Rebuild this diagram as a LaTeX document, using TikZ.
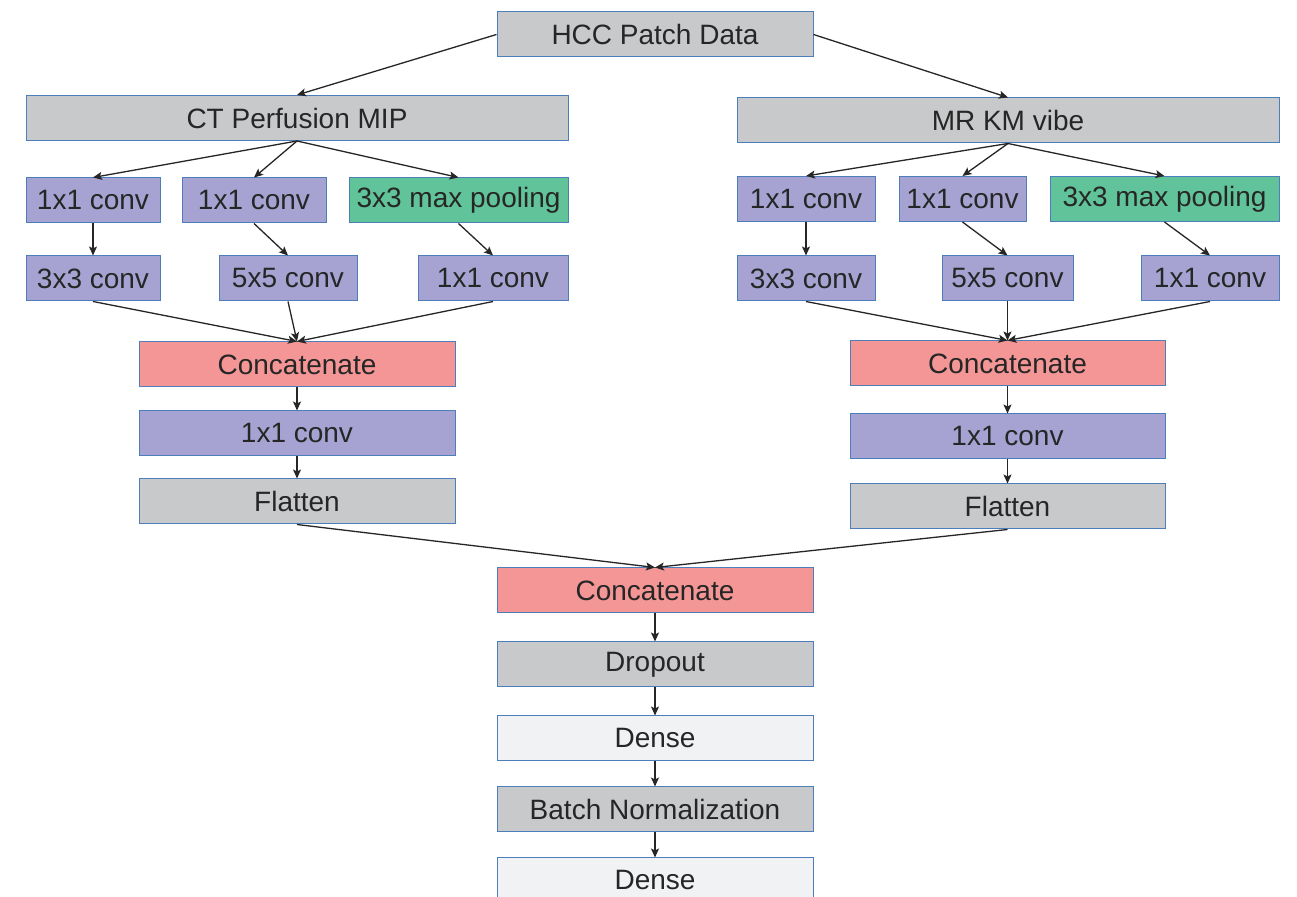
\documentclass[tikz,border=0pt]{standalone}
\usepackage{fontspec}
\setmainfont{Liberation Sans}
\usepackage{tikz}
\usetikzlibrary{shapes,arrows,arrows.meta}
\usetikzlibrary{positioning}
\definecolor{boxgrey}{RGB}{200,201,203}
\definecolor{convpurple}{RGB}{166,163,210}
\definecolor{poolgreen}{RGB}{97,195,153}
\definecolor{catpink}{RGB}{244,150,150}
\definecolor{densewhite}{RGB}{241,242,244}
\definecolor{edgeblue}{RGB}{78,125,188}
\definecolor{inkgrey}{RGB}{38,38,38}
\tikzstyle{arrow} = [line width=0.65pt,->,>={Stealth[length=4.5pt,width=4pt,inset=1pt]},draw=inkgrey]
\tikzstyle{layer} = [
    rectangle, minimum height=22.5pt, inner sep=0pt, text centered,
    draw=edgeblue, line width=0.5pt, text=inkgrey, font=\fontsize{14}{16}\selectfont]
\tikzstyle{data} = [layer, fill=boxgrey]
\tikzstyle{conv} = [layer, fill=convpurple]
\tikzstyle{pool} = [layer, fill=poolgreen]
\tikzstyle{concat} = [layer, fill=catpink]
\tikzstyle{dense} = [layer, fill=densewhite]

\begin{document}
\begin{tikzpicture}[x=0.5pt, y=-0.5pt]
\useasboundingbox[fill=white] (0,0) rectangle (1297,897);

\node (hcc) [data, minimum width=158pt] at (655,34.5) {HCC Patch Data};

% CT branch
\node (ct) [data, minimum width=271pt] at (297,118) {CT Perfusion MIP};
\node (ctA) [conv, minimum width=67pt] at (93,200.5) {1x1 conv};
\node (ctB) [conv, minimum width=72pt] at (254,200.5) {1x1 conv};
\node (ctC) [pool, minimum width=109.5pt] at (458.5,200.5) {3x3 max pooling};
\node (ctA2) [conv, minimum width=67pt] at (93,278.5) {3x3 conv};
\node (ctB2) [conv, minimum width=69pt] at (288,278.5) {5x5 conv};
\node (ctC2) [conv, minimum width=75pt] at (493,278.5) {1x1 conv};
\node (ctcat) [concat, minimum width=158pt] at (297,364.5) {Concatenate};
\node (ctconv) [conv, minimum width=158pt, below=11.5pt of ctcat] {1x1 conv};
\node (ctflat) [data, minimum width=158pt, below=11pt of ctconv] {Flatten};

% MR branch
\node (mr) [data, minimum width=271pt] at (1008,120.5) {MR KM vibe};
\node (mrA) [conv, minimum width=69pt] at (806,199) {1x1 conv};
\node (mrB) [conv, minimum width=63.5pt] at (962.5,199) {1x1 conv};
\node (mrC) [pool, minimum width=114.5pt] at (1164.5,199) {3x3 max pooling};
\node (mrA2) [conv, minimum width=69pt] at (806,278.5) {3x3 conv};
\node (mrB2) [conv, minimum width=65.5pt] at (1007.5,278.5) {5x5 conv};
\node (mrC2) [conv, minimum width=69pt] at (1210,278.5) {1x1 conv};
\node (mrcat) [concat, minimum width=157.5pt] at (1007.5,363.5) {Concatenate};
\node (mrconv) [conv, minimum width=157.5pt, below=13.5pt of mrcat] {1x1 conv};
\node (mrflat) [data, minimum width=157.5pt, below=12pt of mrconv] {Flatten};

% head
\node (cat) [concat, minimum width=158pt] at (655,590.5) {Concatenate};
\node (drop) [data, minimum width=158pt, below=14pt of cat] {Dropout};
\node (dense1) [dense, minimum width=158pt, below=14pt of drop] {Dense};
\node (bn) [data, minimum width=158pt, below=12.5pt of dense1] {Batch Normalization};
\node (dense2) [dense, minimum width=158pt, below=12.5pt of bn] {Dense};

\draw [arrow] (hcc.west) -- (ct.north);
\draw [arrow] (hcc.east) -- (mr.north);

\foreach \src in {ct,mr} {
    \foreach \dst in {A,B,C} {
        \draw [arrow] (\src.south) -- (\src\dst.north);
        \draw [arrow] (\src\dst.south) -- (\src\dst2.north);
        \draw [arrow] (\src\dst2.south) -- (\src cat.north);
    }
    \draw [arrow] (\src cat) -- (\src conv);
    \draw [arrow] (\src conv) -- (\src flat);
    \draw [arrow] (\src flat.south) -- (cat.north);
}

\draw [arrow] (cat) -- (drop);
\draw [arrow] (drop) -- (dense1);
\draw [arrow] (dense1) -- (bn);
\draw [arrow] (bn) -- (dense2);
\end{tikzpicture}
\end{document}
